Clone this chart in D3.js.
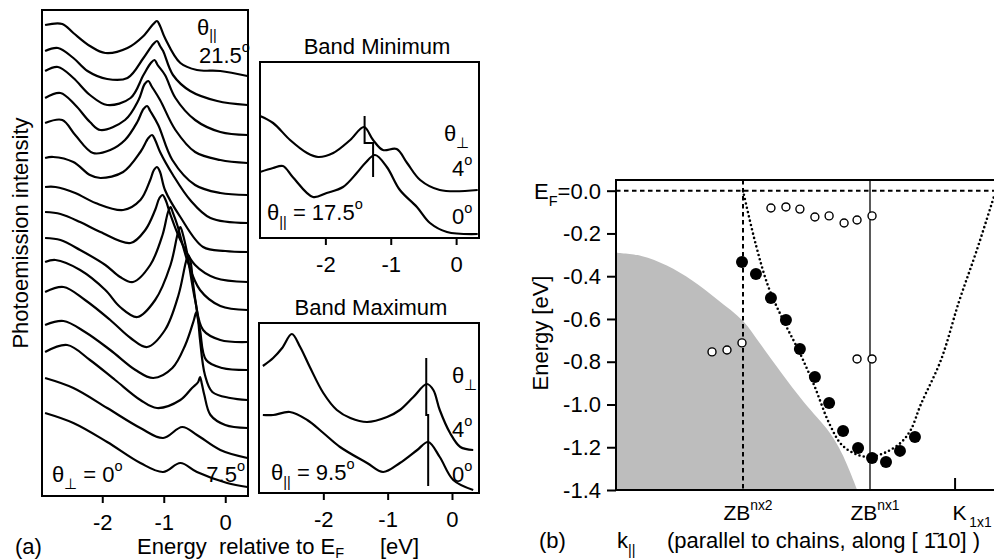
<!DOCTYPE html>
<html>
<head>
<meta charset="utf-8">
<script src="https://cdn.jsdelivr.net/npm/d3@7"></script>
<style>
  body { margin: 0; background: #fff; }
  svg { display: block; }
  text { font-family: "Liberation Sans", Arial, Helvetica, sans-serif; fill: #000; }
</style>
</head>
<body>
<svg id="fig" width="994" height="560"></svg>
<script>
// ---------------- data: panel (a), spectra at theta_perp = 0, theta_par 21.5 ... 7.5 deg
// each point: [energy relative to E_F (eV), photoemission intensity (arb. units, stacked)]
const spec215 = [[-2.93,471],[-2.65,472],[-2.47,463],[-2.20,450],[-1.95,443],[-1.59,448],[-1.33,460],[-1.17,472],[-1.11,475],[-1.06,470],[-0.98,458],[-0.73,433],[-0.46,426],[-0.08,425],[0.36,420]];
const spec205 = [[-2.93,445],[-2.72,448],[-2.47,438],[-2.24,425],[-1.92,417],[-1.59,418],[-1.33,438],[-1.17,452],[-1.11,455],[-1.06,450],[-1.01,445],[-0.85,421],[-0.57,405],[-0.13,395],[0.36,391]];
const spec195 = [[-2.93,425],[-2.72,429],[-2.47,418],[-2.20,401],[-1.92,391],[-1.54,398],[-1.33,421],[-1.21,433],[-1.15,436],[-1.10,431],[-0.98,421],[-0.81,398],[-0.49,376],[-0.08,364],[0.36,361]];
const spec185 = [[-2.93,398],[-2.68,403],[-2.44,391],[-2.20,374],[-2.03,366],[-1.63,376],[-1.41,396],[-1.31,412],[-1.25,415],[-1.20,410],[-1.06,396],[-0.81,366],[-0.49,344],[-0.08,336],[0.36,333]];
const spec175 = [[-2.93,373],[-2.65,376],[-2.44,361],[-2.15,343],[-1.87,346],[-1.63,356],[-1.43,374],[-1.33,387],[-1.27,390],[-1.22,385],[-1.09,371],[-0.86,336],[-0.49,311],[-0.08,303],[0.36,301]];
const spec165 = [[-2.93,338],[-2.80,339],[-2.47,334],[-2.20,321],[-2.03,318],[-1.66,324],[-1.38,344],[-1.25,358],[-1.19,361],[-1.14,356],[-1.06,344],[-0.85,321],[-0.57,296],[-0.24,278],[0.36,273]];
const spec155 = [[-2.93,309],[-2.76,309],[-2.44,303],[-2.11,293],[-1.66,286],[-1.38,296],[-1.22,316],[-1.16,326],[-1.11,329],[-1.06,324],[-0.98,306],[-0.73,279],[-0.36,249],[0.00,245],[0.36,244]];
const spec145 = [[-2.93,284],[-2.68,282],[-2.36,274],[-2.03,264],[-1.54,253],[-1.30,266],[-1.14,286],[-1.07,298],[-1.02,301],[-0.97,296],[-0.89,281],[-0.73,256],[-0.49,231],[-0.16,218],[0.36,214]];
const spec135 = [[-2.93,258],[-2.68,256],[-2.36,246],[-1.95,231],[-1.71,219],[-1.50,214],[-1.22,231],[-1.02,261],[-0.93,284],[-0.89,289],[-0.85,283],[-0.78,271],[-0.62,236],[-0.41,206],[-0.08,190],[0.36,186]];
const spec125 = [[-2.93,234],[-2.76,236],[-2.36,226],[-1.95,206],[-1.71,189],[-1.43,179],[-1.14,196],[-0.89,231],[-0.77,263],[-0.73,269],[-0.69,262],[-0.63,246],[-0.49,196],[-0.36,166],[-0.08,156],[0.36,154]];
const spec115 = [[-2.93,204],[-2.63,209],[-2.28,196],[-1.87,176],[-1.54,158],[-1.27,149],[-0.98,166],[-0.76,201],[-0.64,234],[-0.60,241],[-0.56,233],[-0.52,211],[-0.41,166],[-0.31,136],[-0.05,128],[0.36,126]];
const spec105 = [[-2.93,171],[-2.63,175],[-2.28,164],[-1.87,146],[-1.46,126],[-1.17,118],[-0.86,128],[-0.65,151],[-0.51,176],[-0.47,184],[-0.44,175],[-0.41,156],[-0.33,121],[-0.21,104],[0.08,98],[0.36,96]];
const spec095 = [[-2.93,144],[-2.57,151],[-2.20,136],[-1.79,116],[-1.38,96],[-1.11,88],[-0.73,96],[-0.54,108],[-0.44,114],[-0.41,119],[-0.38,112],[-0.34,101],[-0.24,81],[0.00,71],[0.36,68]];
const spec085 = [[-2.93,118],[-2.47,108],[-1.92,88],[-1.38,68],[-1.01,58],[-0.70,69],[-0.46,61],[-0.08,46],[0.36,38]];
const spec075 = [[-2.93,83],[-2.47,73],[-1.92,54],[-1.38,33],[-1.01,24],[-0.73,33],[-0.46,24],[0.03,13],[0.36,9]];
const spectraA = [spec215, spec205, spec195, spec185, spec175, spec165, spec155, spec145,
                  spec135, spec125, spec115, spec105, spec095, spec085, spec075];

const energyTicks = [-2, -1, 0];
const energyTickLabels = ["-2", "-1", "0"];

// ---------------- band minimum (theta_par = 17.5 deg)
const minPerp4 = [[-3.00,122],[-2.80,115],[-2.54,98],[-2.28,85],[-2.11,81],[-1.88,85],[-1.62,98],[-1.41,111],[-1.27,98],[-1.12,88],[-0.91,89],[-0.75,75],[-0.55,58],[-0.25,48],[0.33,48]];
const minPerp0 = [[-3.00,66],[-2.80,70],[-2.65,72],[-2.50,61],[-2.19,41],[-1.98,45],[-1.73,51],[-1.52,65],[-1.39,75],[-1.24,83],[-1.06,71],[-0.86,48],[-0.60,31],[-0.40,15],[-0.14,6],[0.33,4]];
const minPeakMarks = [[-1.40,122],[-1.40,95],[-1.27,95],[-1.27,61]];

// ---------------- band maximum (theta_par = 9.5 deg)
const maxPerp4 = [[-2.94,127],[-2.78,135],[-2.64,145],[-2.49,159],[-2.36,146],[-2.21,126],[-2.00,100],[-1.79,83],[-1.58,75],[-1.32,71],[-1.01,76],[-0.81,83],[-0.60,96],[-0.39,109],[-0.29,103],[-0.19,83],[-0.03,60],[0.13,46],[0.33,43]];
const maxPerp0 = [[-2.94,78],[-2.78,78],[-2.52,81],[-2.25,73],[-2.00,60],[-1.74,46],[-1.32,30],[-1.07,21],[-0.81,30],[-0.54,43],[-0.37,51],[-0.19,36],[0.02,13],[0.33,3]];
const maxPeakMarks = [[-0.40,135],[-0.40,78],[-0.37,78],[-0.37,7]];

// ---------------- panel (b): dispersion along the chains
const filledK = [0.496,0.551,0.610,0.669,0.724,0.783,0.839,0.894,0.953,1.008,1.063,1.118,1.177];
const filledE = [-0.333,-0.390,-0.502,-0.605,-0.740,-0.871,-0.993,-1.124,-1.203,-1.250,-1.269,-1.217,-1.152];
const openK = [0.378,0.437,0.496,0.610,0.669,0.724,0.783,0.839,0.898,0.949,1.008,0.949,1.008];
const openE = [-0.754,-0.745,-0.712,-0.081,-0.076,-0.086,-0.123,-0.118,-0.151,-0.137,-0.118,-0.787,-0.787];
const bulkEdgeK = [0.00,0.10,0.20,0.30,0.40,0.50,0.57,0.65,0.74,0.84,0.89,0.95];
const bulkEdgeE = [-0.29,-0.305,-0.35,-0.42,-0.51,-0.61,-0.72,-0.85,-0.99,-1.13,-1.23,-1.40];
const fitK = [0.50,0.55,0.60,0.66,0.72,0.78,0.84,0.89,0.95,1.00,1.06,1.12,1.16,1.20,1.28,1.35,1.42,1.49];
const fitE = [0.00,-0.25,-0.45,-0.61,-0.75,-0.91,-1.09,-1.19,-1.235,-1.245,-1.225,-1.18,-1.12,-1.00,-0.79,-0.52,-0.28,-0.02];
const energyTicksB = [0, -0.2, -0.4, -0.6, -0.8, -1.0, -1.2, -1.4];
const energyTickLabelsB = ["0.0", "-0.2", "-0.4", "-0.6", "-0.8", "-1.0", "-1.2", "-1.4"];
const kZB2 = 0.5, kZB1 = 1.0, kK1x1 = 1.333;

// ---------------- drawing
const FONT = 22;
const FAMILY = '"Liberation Sans", Arial, Helvetica, sans-serif';
const svg = d3.select("#fig");

// text made of plain / subscript / superscript runs
function rich(parent, x, y, parts, size, anchor, subShift) {
  const t = parent.append("text").attr("x", x).attr("y", y)
    .attr("font-size", size).attr("text-anchor", anchor || "start");
  const down = subShift === undefined ? 0.32 : subShift;
  let cur = 0;
  for (const [s, kind] of parts) {
    const off = kind === "sub" ? size * down : kind === "sup" ? -size * 0.5 : 0;
    t.append("tspan").attr("dy", off - cur)
      .attr("font-size", kind ? size * 0.66 : size).text(s);
    cur = off;
  }
  return t;
}

function frame(xs, ys) {
  const [x0, x1] = xs.range(), [y0, y1] = ys.range();
  svg.append("rect")
    .attr("x", Math.min(x0, x1)).attr("y", Math.min(y0, y1))
    .attr("width", Math.abs(x1 - x0)).attr("height", Math.abs(y1 - y0))
    .attr("fill", "none").attr("stroke", "#000").attr("stroke-width", 2);
}

function energyAxis(xs, y) {
  svg.append("g").attr("transform", `translate(0,${y})`)
    .call(d3.axisBottom(xs).tickValues(energyTicks)
      .tickFormat((d, i) => energyTickLabels[i]).tickSize(7).tickPadding(11))
    .attr("font-size", FONT).attr("font-family", FAMILY)
    .call(g => g.select(".domain").remove())
    .call(g => g.selectAll(".tick line").attr("stroke", "#000").attr("stroke-width", 2))
    .call(g => g.selectAll(".tick text").attr("fill", "#000"));
}

function spectrum(xs, ys, data, width) {
  const line = d3.line().x(d => xs(d[0])).y(d => ys(d[1]))
    .curve(d3.curveCatmullRom.alpha(0.5));
  svg.append("path").attr("d", line(data))
    .attr("fill", "none").attr("stroke", "#000")
    .attr("stroke-width", width || 2.2).attr("stroke-linejoin", "round");
}

// ---- (a) stacked spectra
const xA = d3.scaleLinear().domain([-2.98, 0.37]).range([42, 248]);
const yA = d3.scaleLinear().domain([0, 486]).range([496, 10]);
spectraA.forEach(s => spectrum(xA, yA, s));
frame(xA, yA);
energyAxis(xA, 496);

svg.append("text").attr("transform", "translate(28,233) rotate(-90)")
  .attr("text-anchor", "middle").attr("font-size", FONT).text("Photoemission intensity");
rich(svg, 197, 35, [["θ"], ["||", "sub"]], FONT, "start", 0.24);
rich(svg, 199, 63, [["21.5"], ["o", "sup"]], FONT);
rich(svg, 52, 482, [["θ"], ["⊥", "sub"], [" = 0"], ["o", "sup"]], FONT);
rich(svg, 245, 482, [["7.5"], ["o", "sup"]], FONT, "end");
svg.append("text").attr("x", 15).attr("y", 554).attr("font-size", FONT).text("(a)");
svg.append("text").attr("x", 137).attr("y", 554).attr("font-size", FONT).text("Energy");
rich(svg, 219, 554, [["relative to E"], ["F", "sub"]], FONT, "start", 0.16);
svg.append("text").attr("x", 380).attr("y", 554).attr("font-size", FONT).text("[eV]");

// ---- band minimum
const xMin = d3.scaleLinear().domain([-3.0, 0.35]).range([260, 479]);
const yMin = d3.scaleLinear().domain([0, 176]).range([238, 62]);
spectrum(xMin, yMin, minPerp4);
spectrum(xMin, yMin, minPerp0);
svg.append("path").attr("d", d3.line().x(d => xMin(d[0])).y(d => yMin(d[1]))(minPeakMarks))
  .attr("fill", "none").attr("stroke", "#000").attr("stroke-width", 2);
frame(xMin, yMin);
energyAxis(xMin, 238);
svg.append("text").attr("x", 377).attr("y", 54).attr("text-anchor", "middle")
  .attr("font-size", FONT).text("Band Minimum");
rich(svg, 444, 141, [["θ"], ["⊥", "sub"]], FONT);
rich(svg, 452, 176, [["4"], ["o", "sup"]], FONT);
rich(svg, 452, 224, [["0"], ["o", "sup"]], FONT);
rich(svg, 267, 220, [["θ"], ["||", "sub"], [" = 17.5"], ["o", "sup"]], FONT);

// ---- band maximum
const xMax = d3.scaleLinear().domain([-3.0, 0.42]).range([259, 479]);
const yMax = d3.scaleLinear().domain([0, 170]).range([493, 323]);
spectrum(xMax, yMax, maxPerp4);
spectrum(xMax, yMax, maxPerp0);
svg.append("path").attr("d", d3.line().x(d => xMax(d[0])).y(d => yMax(d[1]))(maxPeakMarks))
  .attr("fill", "none").attr("stroke", "#000").attr("stroke-width", 2);
frame(xMax, yMax);
energyAxis(xMax, 493);
svg.append("text").attr("x", 371).attr("y", 315).attr("text-anchor", "middle")
  .attr("font-size", FONT).text("Band Maximum");
rich(svg, 452, 383, [["θ"], ["⊥", "sub"]], FONT);
rich(svg, 452, 437, [["4"], ["o", "sup"]], FONT);
rich(svg, 452, 482, [["0"], ["o", "sup"]], FONT);
rich(svg, 271, 480, [["θ"], ["||", "sub"], [" = 9.5"], ["o", "sup"]], FONT);

// ---- (b) dispersion
const xB = d3.scaleLinear().domain([0, 1.5]).range([616, 997]);
const yB = d3.scaleLinear().domain([-1.4, 0.05]).range([490, 180]);
svg.append("defs").append("clipPath").attr("id", "clipB").append("rect")
  .attr("x", xB(0)).attr("y", yB(0.05)).attr("width", xB(1.5) - xB(0)).attr("height", yB(-1.4) - yB(0.05));
const gB = svg.append("g").attr("clip-path", "url(#clipB)");

// projected bulk band region
const bulk = bulkEdgeK.map((k, i) => [k, bulkEdgeE[i]]);
gB.append("path")
  .attr("d", d3.area().x(d => xB(d[0])).y0(yB(-1.4)).y1(d => yB(d[1]))
    .curve(d3.curveCatmullRom.alpha(0.5))(bulk))
  .attr("fill", "#bdbdbd");

// Fermi level
gB.append("line").attr("x1", xB(0)).attr("x2", xB(1.5)).attr("y1", yB(0)).attr("y2", yB(0))
  .attr("stroke", "#000").attr("stroke-width", 2).attr("stroke-dasharray", "4.5 3.5");
// zone boundaries
gB.append("line").attr("x1", xB(kZB2)).attr("x2", xB(kZB2)).attr("y1", yB(0.05)).attr("y2", yB(-1.4))
  .attr("stroke", "#000").attr("stroke-width", 2).attr("stroke-dasharray", "4.5 3.5");
gB.append("line").attr("x1", xB(kZB1)).attr("x2", xB(kZB1)).attr("y1", yB(0.05)).attr("y2", yB(-1.4))
  .attr("stroke", "#000").attr("stroke-width", 1.3);

// model band
const fit = fitK.map((k, i) => [k, fitE[i]]);
gB.append("path")
  .attr("d", d3.line().x(d => xB(d[0])).y(d => yB(d[1])).curve(d3.curveCatmullRom.alpha(0.5))(fit))
  .attr("fill", "none").attr("stroke", "#000").attr("stroke-width", 2.6)
  .attr("stroke-linecap", "round").attr("stroke-dasharray", "0 4.4");

// measured peaks
gB.selectAll("circle.open").data(openK.map((k, i) => [k, openE[i]])).join("circle")
  .attr("class", "open").attr("cx", d => xB(d[0])).attr("cy", d => yB(d[1])).attr("r", 4)
  .attr("fill", "#fff").attr("stroke", "#000").attr("stroke-width", 1.4);
gB.selectAll("circle.filled").data(filledK.map((k, i) => [k, filledE[i]])).join("circle")
  .attr("class", "filled").attr("cx", d => xB(d[0])).attr("cy", d => yB(d[1])).attr("r", 6)
  .attr("fill", "#000");

// frame of (b): left, top and bottom edges
svg.append("path")
  .attr("d", `M${xB(1.5)},${yB(0.05)}H${xB(0)}V${yB(-1.4)}H${xB(1.5)}`)
  .attr("fill", "none").attr("stroke", "#000").attr("stroke-width", 2);

// energy axis
svg.append("g").attr("transform", `translate(${xB(0)},0)`)
  .call(d3.axisLeft(yB).tickValues(energyTicksB)
    .tickFormat((d, i) => i === 0 ? "" : energyTickLabelsB[i]).tickSize(9).tickPadding(6))
  .attr("font-size", FONT).attr("font-family", FAMILY)
  .call(g => g.select(".domain").remove())
  .call(g => g.selectAll(".tick line").attr("stroke", "#000").attr("stroke-width", 2))
  .call(g => g.selectAll(".tick text").attr("fill", "#000"));
rich(svg, 601, yB(0) + 8, [["E"], ["F", "sub"], ["=" + energyTickLabelsB[0]]], FONT, "end");
svg.append("text").attr("transform", "translate(548,333) rotate(-90)")
  .attr("text-anchor", "middle").attr("font-size", FONT).text("Energy [eV]");

// momentum marks
svg.append("g").attr("transform", `translate(0,${yB(-1.4)})`)
  .call(d3.axisBottom(xB).tickValues([kK1x1]).tickFormat("").tickSize(-12))
  .call(g => g.select(".domain").remove())
  .call(g => g.selectAll(".tick line").attr("stroke", "#000").attr("stroke-width", 2));
rich(svg, xB(kZB2) + 5, 520, [["ZB"], ["nx2", "sup"]], 21, "middle");
rich(svg, xB(kZB1) + 5, 520, [["ZB"], ["nx1", "sup"]], 21, "middle");
rich(svg, xB(kK1x1) - 2, 520, [["K"], ["\u20091x1", "sub"]], 21);

svg.append("text").attr("x", 539).attr("y", 548).attr("font-size", FONT).text("(b)");
rich(svg, 617, 548, [["k"], ["||", "sub"]], FONT);
svg.append("text").attr("x", 667).attr("y", 548).attr("font-size", FONT)
  .text("(parallel to chains, along [ 1\u030410] )");
</script>
</body>
</html>
